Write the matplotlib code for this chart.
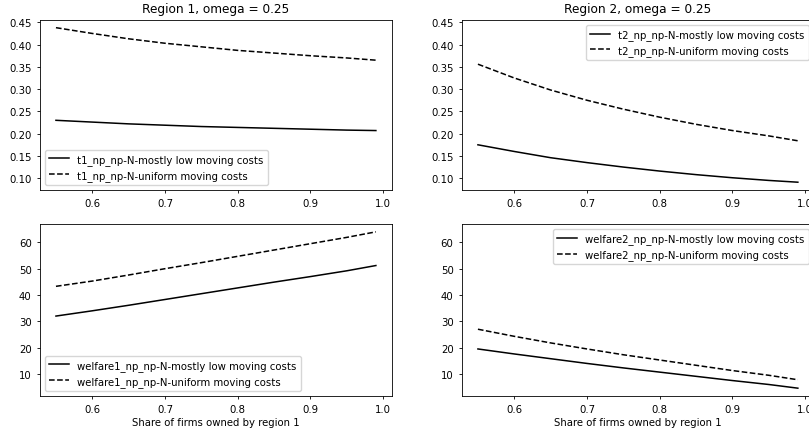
import numpy as np
import matplotlib
matplotlib.use('Agg')
import matplotlib.pyplot as plt
from matplotlib import rcParams

rcParams['font.size'] = 7.3
rcParams['lines.linewidth'] = 1.1
rcParams['axes.linewidth'] = 0.6
rcParams['xtick.major.width'] = 0.6
rcParams['ytick.major.width'] = 0.6
rcParams['xtick.major.size'] = 2.5
rcParams['ytick.major.size'] = 2.5

share = [0.55, 0.6, 0.65, 0.7, 0.75, 0.8, 0.85, 0.9, 0.95, 0.99]

t1_low = [0.230, 0.226, 0.222, 0.219, 0.216, 0.214, 0.212, 0.210, 0.208, 0.207]
t1_uni = [0.438, 0.425, 0.413, 0.403, 0.395, 0.387, 0.381, 0.375, 0.370, 0.365]
t2_low = [0.175, 0.160, 0.146, 0.135, 0.125, 0.116, 0.108, 0.101, 0.095, 0.091]
t2_uni = [0.356, 0.325, 0.298, 0.275, 0.255, 0.237, 0.221, 0.207, 0.195, 0.184]
w1_low = [32.0, 34.0, 36.1, 38.3, 40.5, 42.7, 44.9, 47.0, 49.2, 51.2]
w1_uni = [43.3, 45.3, 47.6, 50.0, 52.3, 54.7, 57.1, 59.5, 61.9, 64.0]
w2_low = [19.5, 17.6, 15.8, 14.0, 12.3, 10.7, 9.1, 7.5, 6.0, 4.6]
w2_uni = [27.0, 24.3, 21.8, 19.5, 17.3, 15.3, 13.3, 11.3, 9.5, 7.8]

fig = plt.figure(figsize=(8.09, 4.31), dpi=100)
# right column runs past the figure edge, as in the (cropped) original
ax00 = fig.add_axes([0.0494, 0.557, 0.435, 0.3944])
ax01 = fig.add_axes([0.571, 0.557, 0.435, 0.3944], sharey=ax00)
ax10 = fig.add_axes([0.0494, 0.0789, 0.435, 0.399])
ax11 = fig.add_axes([0.571, 0.0789, 0.435, 0.399], sharey=ax10)

ax00.plot(share, t1_low, color='black', label='t1_np_np-N-mostly low moving costs')
ax00.plot(share, t1_uni, color='black', ls='--', label='t1_np_np-N-uniform moving costs')
ax00.set_title('Region 1, omega = 0.25', fontsize=8.7)
ax00.legend(loc='lower left')

ax01.plot(share, t2_low, color='black', label='t2_np_np-N-mostly low moving costs')
ax01.plot(share, t2_uni, color='black', ls='--', label='t2_np_np-N-uniform moving costs')
ax01.set_title('Region 2, omega = 0.25', fontsize=8.7)
ax01.legend(loc='upper right')

ax10.plot(share, w1_low, color='black', label='welfare1_np_np-N-mostly low moving costs')
ax10.plot(share, w1_uni, color='black', ls='--', label='welfare1_np_np-N-uniform moving costs')
ax10.set_xlabel('Share of firms owned by region 1', labelpad=2)
ax10.legend(loc='lower left')

ax11.plot(share, w2_low, color='black', label='welfare2_np_np-N-mostly low moving costs')
ax11.plot(share, w2_uni, color='black', ls='--', label='welfare2_np_np-N-uniform moving costs')
ax11.set_xlabel('Share of firms owned by region 1', labelpad=2)
ax11.legend(loc='upper right')

ax00.set_yticks([0.10, 0.15, 0.20, 0.25, 0.30, 0.35, 0.40, 0.45])
ax10.set_yticks([10, 20, 30, 40, 50, 60])
for a in [ax00, ax01, ax10, ax11]:
    a.set_xticks([0.6, 0.7, 0.8, 0.9, 1.0])
    a.tick_params(labelleft=True)

fig.savefig('out.png', dpi=100)
